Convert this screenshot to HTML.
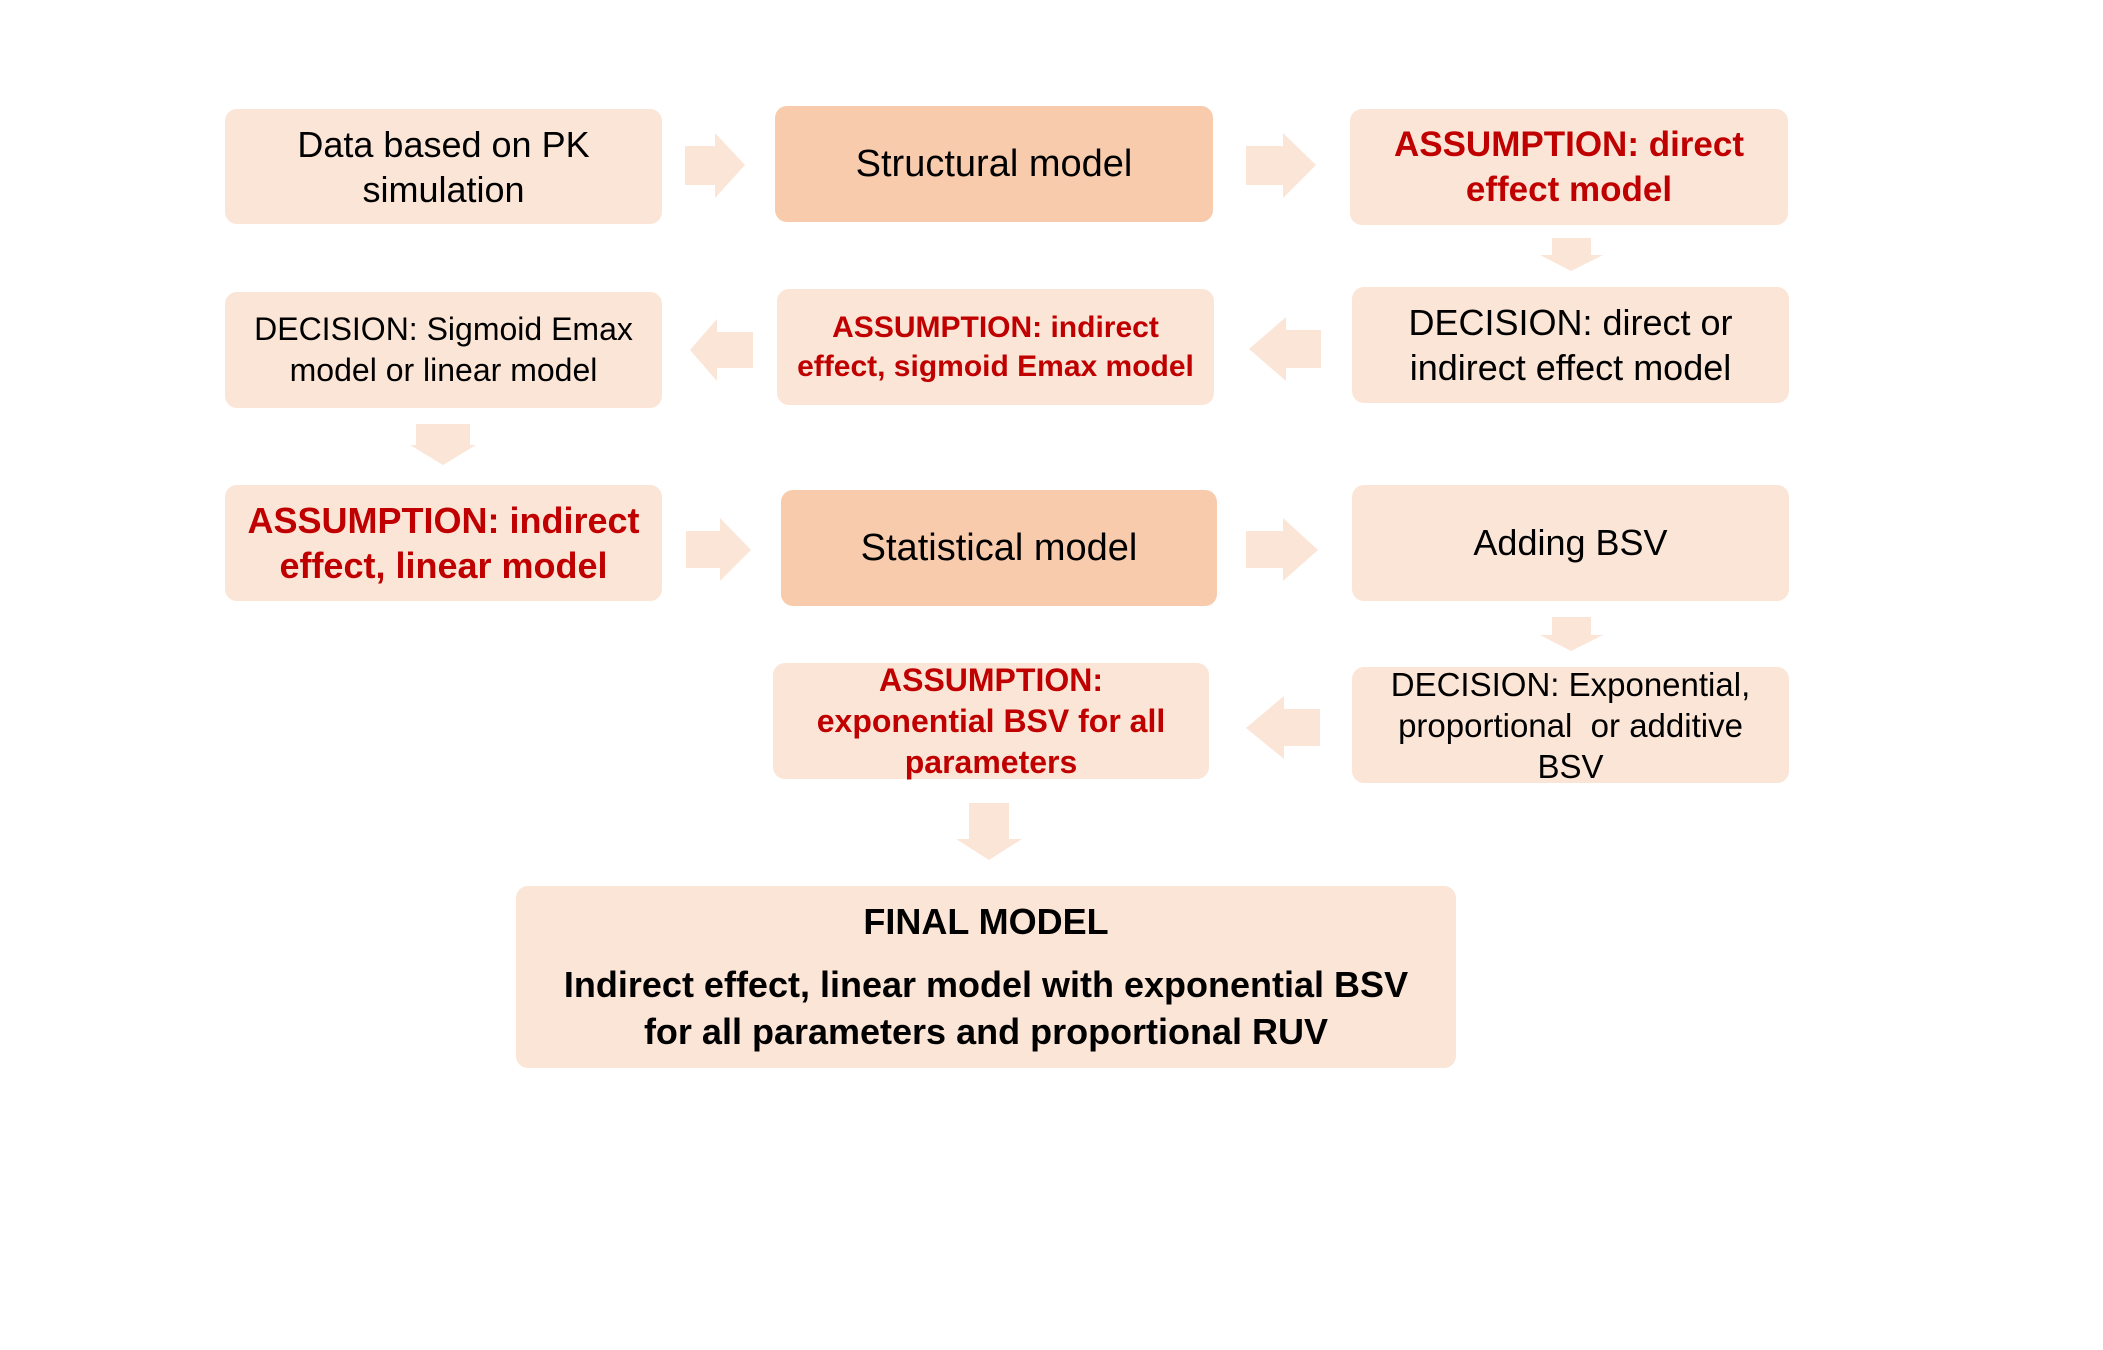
<!DOCTYPE html>
<html><head><meta charset="utf-8"><style>
html,body{margin:0;padding:0;background:#fff}
body{width:2103px;height:1350px;position:relative;overflow:hidden;font-family:"Liberation Sans",sans-serif}
.b{position:absolute;background:#fbe5d6;border-radius:12px;display:flex;align-items:center;justify-content:center;text-align:center;white-space:nowrap;color:#000}
.d{background:#f8cbad}
.r{color:#c00000;font-weight:bold}
svg{position:absolute;left:0;top:0}
</style></head><body>
<svg width="2103" height="1350">
<g fill="#fbe5d6">
<polygon points="685,146 715,146 715,133 745,165 715,198 715,185 685,185"/>
<polygon points="1246,146 1283,146 1283,133 1316,165 1283,198 1283,185 1246,185"/>
<polygon points="1552,238 1591,238 1591,255 1603,255 1571,271 1540,255 1552,255"/>
<polygon points="1321,330 1286,330 1286,317 1249,349 1286,381 1286,368 1321,368"/>
<polygon points="753,332 717,332 717,319 690,350 717,381 717,368 753,368"/>
<polygon points="416,424 470,424 470,445 476,445 443,465 410,445 416,445"/>
<polygon points="686,531 720,531 720,518 751,550 720,581 720,568 686,568"/>
<polygon points="1246,531 1283,531 1283,518 1318,550 1283,581 1283,568 1246,568"/>
<polygon points="1552,617 1591,617 1591,635 1603,635 1571,651 1540,635 1552,635"/>
<polygon points="1320,709 1284,709 1284,696 1246,728 1284,759 1284,746 1320,746"/>
<polygon points="969,803 1009,803 1009,839 1022,839 989,860 956,839 969,839"/>
</g>
</svg>
<div class="b" style="left:225px;top:109px;width:437px;height:115px;font-size:36px;line-height:45px">Data based on PK<br>simulation</div>
<div class="b d" style="left:775px;top:106px;width:438px;height:116px;font-size:38px">Structural model</div>
<div class="b r" style="left:1350px;top:109px;width:438px;height:116px;font-size:35px;line-height:45px">ASSUMPTION: direct<br>effect model</div>
<div class="b" style="left:225px;top:292px;width:437px;height:116px;font-size:32px;line-height:41px">DECISION: Sigmoid Emax<br>model or linear model</div>
<div class="b r" style="left:777px;top:289px;width:437px;height:116px;font-size:30px;line-height:39px">ASSUMPTION: indirect<br>effect, sigmoid Emax model</div>
<div class="b" style="left:1352px;top:287px;width:437px;height:116px;font-size:36px;line-height:45px">DECISION: direct or<br>indirect effect model</div>
<div class="b r" style="left:225px;top:485px;width:437px;height:116px;font-size:36px;line-height:45px">ASSUMPTION: indirect<br>effect, linear model</div>
<div class="b d" style="left:781px;top:490px;width:436px;height:116px;font-size:38px">Statistical model</div>
<div class="b" style="left:1352px;top:485px;width:437px;height:116px;font-size:36px">Adding BSV</div>
<div class="b r" style="left:773px;top:663px;width:436px;height:116px;font-size:32px;line-height:41px">ASSUMPTION:<br>exponential BSV for all<br>parameters</div>
<div class="b" style="left:1352px;top:667px;width:437px;height:116px;font-size:33px;line-height:41px">DECISION: Exponential,<br>proportional&nbsp; or additive<br>BSV</div>
<div class="b" style="left:516px;top:886px;width:940px;height:182px;font-size:36px;font-weight:bold;line-height:47px;display:block;padding-top:12px;box-sizing:border-box">FINAL MODEL<div style="height:16px"></div>Indirect effect, linear model with exponential BSV<br>for all parameters and proportional RUV</div>
</body></html>
